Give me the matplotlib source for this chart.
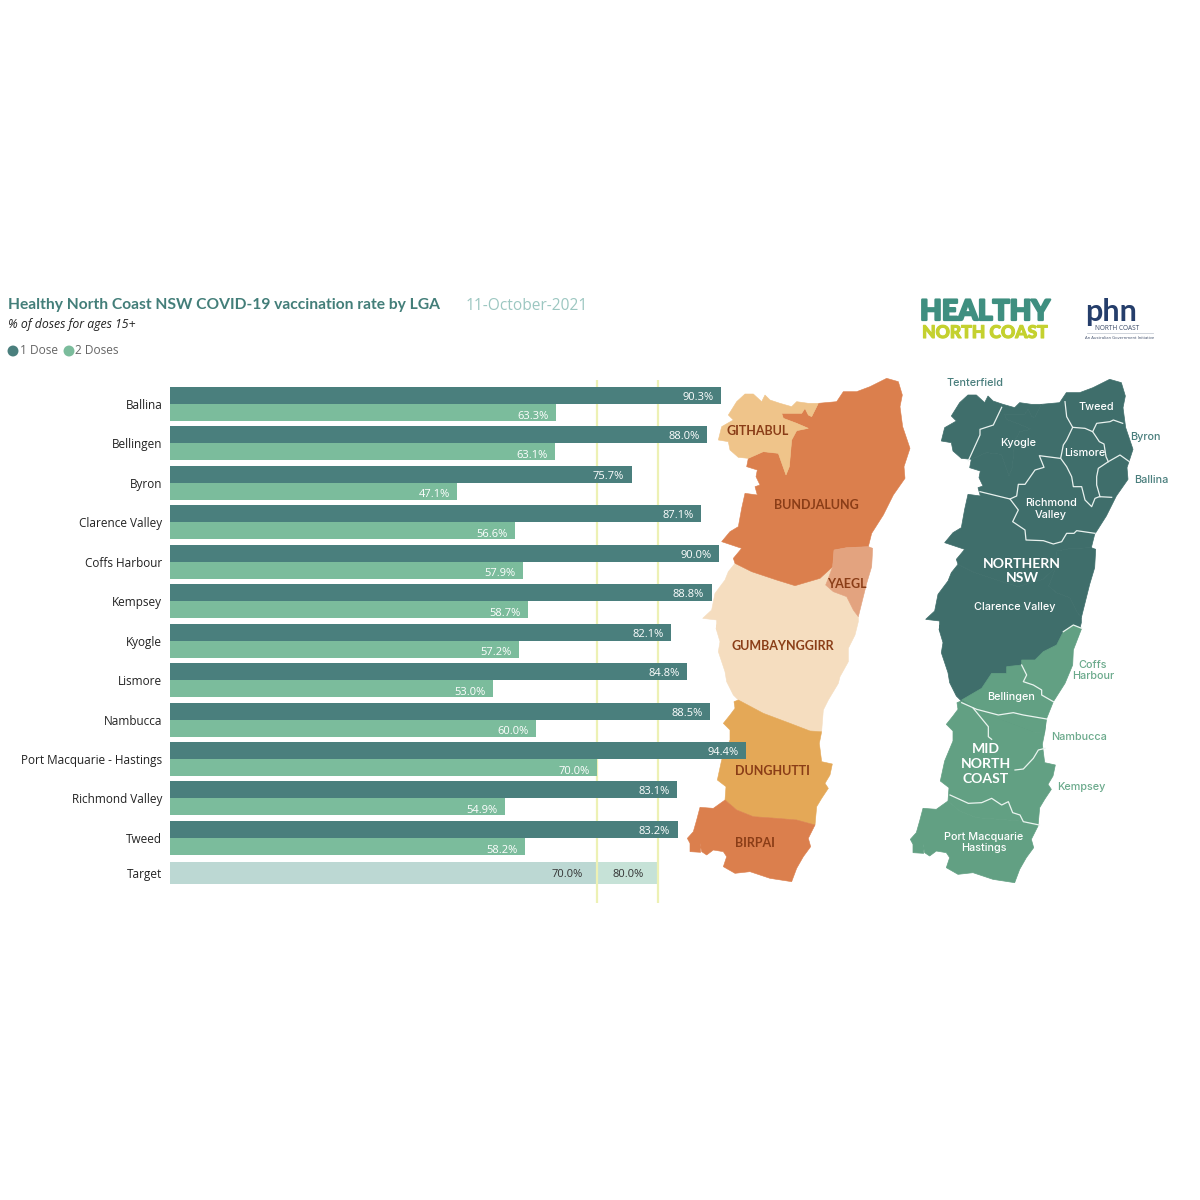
import matplotlib
matplotlib.use("Agg")
import matplotlib.pyplot as plt
from matplotlib.patches import Polygon
import matplotlib.patheffects as pe

FONT = "Open Sans"
plt.rcParams["font.family"] = [FONT, "DejaVu Sans"]

# ---------- chart data ----------
lgas = ["Ballina", "Bellingen", "Byron", "Clarence Valley", "Coffs Harbour", "Kempsey", "Kyogle",
        "Lismore", "Nambucca", "Port Macquarie - Hastings", "Richmond Valley", "Tweed"]
dose1 = [90.3, 88.0, 75.7, 87.1, 90.0, 88.8, 82.1, 84.8, 88.5, 94.4, 83.1, 83.2]
dose2 = [63.3, 63.1, 47.1, 56.6, 57.9, 58.7, 57.2, 53.0, 60.0, 70.0, 54.9, 58.2]
target_label = "Target"
targets = [70.0, 80.0]

C1, C2 = "#4A7F7D", "#7BBC9C"
T1, T2 = "#BCD8D3", "#C6E2D7"
LINE = "#EDF1B4"

# ---------- decorative map outlines (reference crop coords) ----------
bundjalung_z = [(415,100),(470,95),(490,65),(530,65),(570,50),(620,25),(655,35),(667,75),(660,110),(668,170),
    (690,235),(672,290),(675,325),(640,375),(610,435),(575,490),(565,530),(500,533),(462,540),(458,590),(420,625),
    (345,647),(290,630),(215,605),(165,580),(160,565),(185,535),(125,515),(150,485),(175,470),(185,415),(195,370),
    (232,375),(225,350),(240,345),(228,320),(232,300),(200,290),(205,265),(250,245),(295,250),(318,315),(328,290),
    (335,210),(350,182),(385,175),(350,160),(310,145),(305,130),(365,130),(375,115),(385,135),(395,140)]
githabul_z = [(145,135),(170,95),(195,72),(220,72),(245,95),(255,75),(270,90),(300,100),(335,110),(350,95),(385,100),
    (415,100),(395,140),(385,135),(375,115),(365,130),(305,130),(310,145),(350,160),(385,175),(350,182),(335,210),
    (328,290),(318,315),(295,250),(250,245),(205,265),(175,262),(150,240),(145,215),(115,210),(125,170),(160,150)]
yaegl_z = [(462,540),(500,533),(565,530),(578,535),(575,590),(560,640),(545,700),(535,740),(520,720),(500,680),
    (460,665),(437,645),(445,625),(458,590)]
gumb_top_z = [(165,580),(215,605),(290,630),(345,647),(420,625),(458,590),(445,625),(437,645),(460,665),(500,680),
    (520,720),(535,740)]
gumb_bot_z = [(535,5),(525,45),(505,85),(505,125),(480,170),(475,190),(445,240),(430,270),(425,333),(390,333),
    (330,310),(250,280),(175,240),(160,225),(140,185),(135,155),(115,95),(120,65),(108,25),(115,0)]
gumb_left_z = [(110,780),(110,750),(68,745),(95,720),(105,670),(135,630),(145,605)]
dunghutti_z = [(175,240),(250,280),(330,310),(390,333),(425,335),(418,370),(425,425),(457,432),(450,465),(435,490),
    (445,505),(425,535),(410,560),(405,615),(350,600),(290,595),(220,590),(170,570),(135,540),(138,500),(112,480),
    (125,420),(150,360),(150,330),(130,310),(150,285),(165,265),(162,245)]
birpai_z = [(135,540),(170,570),(220,590),(290,595),(350,600),(405,615),(385,655),(392,680),(370,710),(350,745),
    (335,785),(270,775),(210,755),(165,760),(130,740),(140,710),(130,695),(100,690),(80,705),(65,695),(60,670),
    (62,697),(30,695),(30,670),(22,655),(40,635),(50,600),(60,562),(100,565)]
mid_top_z = [(185,240),(245,205),(275,160),(320,160),(320,140),(365,135),(365,120),(405,120),(430,95),(470,75),
    (490,35),(520,15),(545,25),(520,90),(518,135),(495,190),(460,245),(440,295),(434,338),(399,336),(339,313),(259,283)]

north_lines_z = [
    [(305,112),(280,165),(240,178),(240,195),(205,272)],
    [(240,365),(330,387),(350,378),(355,343),(375,343),(405,300),(432,292),(418,257),(480,265)],
    [(495,95),(500,140),(518,172),(555,175),(578,185),(590,160),(630,155),(640,150),(668,160)],
    [(518,172),(500,210),(490,225),(482,265),(500,290),(515,320),(520,350),(545,350),(555,390),(575,410),(585,385),(598,380),(635,382)],
    [(578,185),(598,215),(612,222),(618,260),(625,275),(595,295),(590,320),(590,345),(600,380)],
    [(625,275),(660,255),(688,275)],
    [(330,387),(355,420),(338,455),(375,480),(378,510),(430,512),(460,522),(485,515),(500,490),(522,490),(530,482),(585,490)],
]
mid_lines_z = [
    [(185,248),(230,268),(295,285),(340,278),(370,285),(440,297)],
    [(365,135),(380,165),(370,185),(400,195),(425,210),(425,225),(460,245)],
    [(220,265),(265,320),(265,350),(275,358)],
    [(345,450),(370,447),(400,415),(415,390),(435,385)],
    [(150,525),(205,550),(245,548),(275,535),(305,555),(325,545),(338,578),(360,585),(370,605),(418,615)],
    [(490,35),(520,15),(545,25)],
]

def conv(pts, ox, oy, dx=0, dy=0):
    return [(ox + x / 3 + dx, oy + y / 3 + dy) for x, y in pts]

fig = plt.figure(figsize=(12, 12), dpi=100, facecolor="white")

# full-figure pixel layer for the maps and header
bg = fig.add_axes([0, 0, 1, 1], zorder=0)
bg.set_xlim(0, 1200)
bg.set_ylim(1200, 0)
bg.axis("off")

Z2, Z3 = (680, 370), (680, 620)
bund = conv(bundjalung_z, *Z2)
gith = conv(githabul_z, *Z2)
yaeg = conv(yaegl_z, *Z2)
gumb = conv(gumb_top_z, *Z2) + conv(gumb_bot_z, *Z3) + conv(gumb_left_z, *Z2)
dung = conv(dunghutti_z, *Z3)
birp = conv(birpai_z, *Z3)

for pts, c in [(gumb, "#F5DDBF"), (bund, "#DB7F4D"), (gith, "#EFC48A"), (yaeg, "#E3A37F"),
               (dung, "#E4A857"), (birp, "#DB7F4D")]:
    bg.add_patch(Polygon(pts, closed=True, fc=c, ec=c, lw=0.4))

# right map: same silhouette shifted
DX, DY = 223, 1
DARK, GREEN = "#3F6E6B", "#62A083"
for pts in (gumb, bund, gith, yaeg):
    bg.add_patch(Polygon([(x + DX, y + DY) for x, y in pts], closed=True, fc=DARK, ec=DARK, lw=0.5))
for pts in (dung, birp):
    bg.add_patch(Polygon([(x + DX, y + DY) for x, y in pts], closed=True, fc=GREEN, ec=GREEN, lw=0.5))
bg.add_patch(Polygon(conv(mid_top_z, 900, 620), closed=True, fc=GREEN, ec=GREEN, lw=0.5))
for seg in north_lines_z:
    p = conv(seg, 900, 370)
    bg.plot([a for a, _ in p], [b for _, b in p], color="#E8F1EE", lw=0.9, solid_joinstyle="round")
for seg in mid_lines_z:
    p = conv(seg, 900, 620)
    bg.plot([a for a, _ in p], [b for _, b in p], color="#EAF4EF", lw=0.9, solid_joinstyle="round")

# left-map nation labels
BROWN = "#8A3D17"
LATO = ["Lato", "DejaVu Sans"]
for s, x, y in [("GITHABUL", 758, 431), ("BUNDJALUNG", 816, 505), ("YAEGL", 847, 584),
                ("GUMBAYNGGIRR", 783, 646.5), ("DUNGHUTTI", 772, 771), ("BIRPAI", 755, 843)]:
    bg.text(x, y, s, color=BROWN, fontsize=9.0, fontweight="bold", ha="center", va="center", family=LATO)

# right-map labels
MAPFONT = ["Inter", "DejaVu Sans"]
for s, x, y in [("Tweed", 1096, 407), ("Kyogle", 1018, 443.5), ("Lismore", 1085, 453.5),
                ("Richmond\nValley", 1051, 509), ("Clarence Valley", 1015, 606.5),
                ("Bellingen", 1011, 697.5), ("Port Macquarie\nHastings", 984, 842.5)]:
    bg.text(x, y, s, color="white", fontsize=7.8, ha="center", va="center", family=MAPFONT,
            linespacing=1.15, fontweight="medium")
for s, x, y in [("Tenterfield", 975, 383.5), ("Byron", 1145, 437.5), ("Ballina", 1151, 480)]:
    bg.text(x, y, s, color="#4A7F7D", fontsize=7.8, ha="center", va="center", family=MAPFONT, fontweight="medium")
for s, x, y in [("Coffs\nHarbour", 1093, 670.5), ("Nambucca", 1079, 736.5), ("Kempsey", 1081, 787)]:
    bg.text(x, y, s, color="#6BAA8C", fontsize=7.8, ha="center", va="center", family=MAPFONT,
            linespacing=1.15, fontweight="medium")
for s, x, y in [("NORTHERN\nNSW", 1022, 571), ("MID\nNORTH\nCOAST", 986, 764)]:
    bg.text(x, y, s, color="white", fontsize=10.1, fontweight="bold", ha="center", va="center",
            family=LATO, linespacing=1.28)

# header
bg.text(8, 305, "Healthy North Coast NSW COVID-19 vaccination rate by LGA", color="#437E79", fontsize=11.25,
        fontweight="bold", ha="left", va="center", family=LATO)
bg.text(466, 306, "11-October-2021", color="#9CC7C1", fontsize=11.2, ha="left", va="center")
bg.text(8, 324.5, "% of doses for ages 15+", color="#222222", fontsize=8.85, style="italic", ha="left", va="center")
bg.scatter([13, 69], [351, 351], s=62, c=[C1, C2], linewidths=0)
bg.text(20, 351, "1 Dose", color="#666666", fontsize=8.6, ha="left", va="center")
bg.text(75, 351, "2 Doses", color="#666666", fontsize=8.6, ha="left", va="center")

# logos as text
heavy = lambda c, w: [pe.withStroke(linewidth=w, foreground=c)]
bg.text(985, 312, "HEALTHY", color="#3F8F80", fontsize=20.3, fontweight="black", ha="center", va="center",
        family=LATO, path_effects=heavy("#3F8F80", 1.6))
bg.text(985, 333, "NORTH COAST", color="#C4D12F", fontsize=12.6, fontweight="black", ha="center", va="center",
        family=LATO, path_effects=heavy("#C4D12F", 0.8))
bg.text(1111, 311.5, "phn", color="#253E6B", fontsize=22, fontweight="bold", ha="center", va="center", family=LATO)
bg.text(1117, 329, "NORTH COAST", color="#3B4A66", fontsize=4.7, ha="center", va="center")
bg.plot([1087, 1153], [333, 333], color="#C8CDD6", lw=0.6)
bg.text(1120, 338, "An Australian Government Initiative", color="#3B4A66", fontsize=2.95, ha="center", va="center")

# bar chart, on its own data axes
PX_PER_PCT = 6.1
ROW = 39.45
Y0 = 404
ax_l, ax_r, ax_t, ax_b = 170, 770, 380, 903
ax = fig.add_axes([ax_l / 1200, 1 - ax_b / 1200, (ax_r - ax_l) / 1200, (ax_b - ax_t) / 1200], zorder=2)
ax.patch.set_alpha(0)
ax.set_xlim(0, (ax_r - ax_l) / PX_PER_PCT)
ax.set_ylim((ax_b - Y0) / ROW, (ax_t - Y0) / ROW)
for s in ax.spines.values():
    s.set_visible(False)

bar_h = 17 / ROW
rows = list(range(len(lgas)))
target_row = 11.9
ax.barh([r - bar_h / 2 for r in rows], dose1, height=bar_h, color=C1, zorder=2)
ax.barh([r + bar_h / 2 for r in rows], dose2, height=bar_h, color=C2, zorder=2)
ax.barh(target_row, targets[1], height=22 / ROW, color=T2, zorder=1)
ax.barh(target_row, targets[0], height=22 / ROW, color=T1, zorder=1)
for t in targets:
    ax.axvline(t, color=LINE, lw=1.6, zorder=1.5)

off = 7.5 / PX_PER_PCT
for r, a, b in zip(rows, dose1, dose2):
    ax.text(a - off, r - bar_h / 2 + 0.05, f"{a:.1f}%", color="white", fontsize=8.0, ha="right", va="center", zorder=3)
    ax.text(b - off, r + bar_h / 2 + 0.09, f"{b:.1f}%", color="white", fontsize=8.0, ha="right", va="center", zorder=3)
for t in targets:
    ax.text(t - 14 / PX_PER_PCT, target_row + 0.03, f"{t:.1f}%", color="#333333", fontsize=8.0, ha="right", va="center", zorder=3)

ax.set_yticks(rows + [target_row])
ax.set_yticklabels(lgas + [target_label], fontsize=8.5, color="#222222")
ax.tick_params(axis="y", length=0, pad=5.5)
ax.set_xticks([])

fig.savefig("out.png", dpi=100)
